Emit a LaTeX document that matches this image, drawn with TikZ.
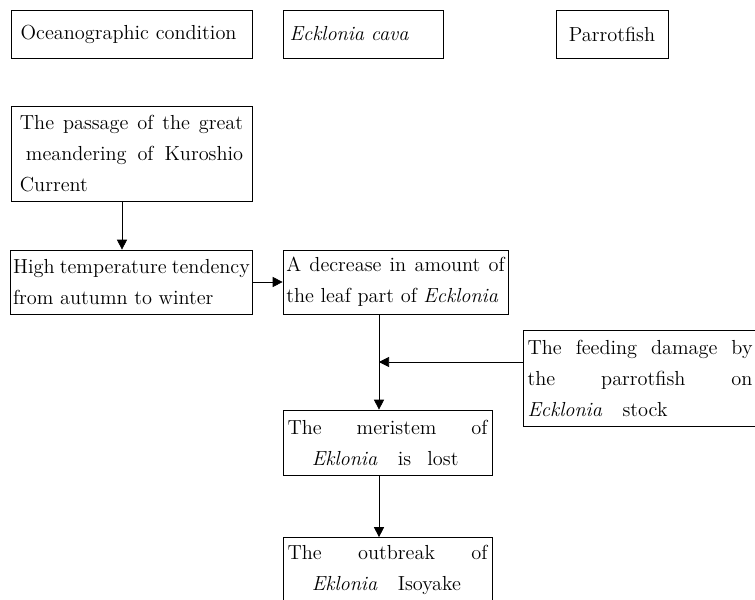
\documentclass[tikz,border=0pt]{standalone}
\usetikzlibrary{arrows.meta}

\begin{document}
\begin{tikzpicture}[x=0.6pt,y=-0.6pt,
    font=\fontsize{12.2}{18.6}\selectfont,
    >={Triangle[length=6pt,width=6pt]}]

      \useasboundingbox (0,0) rectangle (755,599);

      \begin{scope}[every node/.style={draw,rectangle,inner sep=1.5pt,align=justify}]
        \node[minimum width=144.6pt,minimum height=28.8pt,align=left,text width=133pt] (ocean) at (131.5,34) {Oceanographic condition};
        \node[minimum width=96pt,minimum height=28.8pt,align=left,text width=88pt] (cava) at (363,34) {\itshape Ecklonia cava};
        \node[minimum width=67.2pt,minimum height=28.8pt,align=center] (parrot) at (612,34) {Parrotfish};

        \node[minimum width=144.6pt,minimum height=57pt,text width=134pt] (passage) at (131.5,153.5)
          {The passage of the great\linebreak \hspace*{0.3em}meandering of Kuroshio\linebreak Current};
        \node[minimum width=144.6pt,minimum height=38.4pt,text width=142pt] (high) at (131.5,282)
          {High temperature tendency\linebreak from autumn to winter};
        \node[minimum width=135pt,minimum height=38.4pt,text width=131pt] (decrease) at (395.5,282)
          {A decrease in amount of\linebreak the leaf part of \textit{Ecklonia}};
        \node[minimum width=140.4pt,minimum height=57.6pt,text width=135pt] (feeding) at (640,378)
          {The feeding damage by\linebreak the parrotfish on\linebreak \textit{Ecklonia}\quad stock};
        \node[minimum width=125.4pt,minimum height=39pt,text width=120pt] (meristem) at (387.5,442.5)
          {The meristem of\linebreak \hspace*{1.2em}\textit{Eklonia}\quad is\hspace{0.8em}lost};
        \node[minimum width=125.4pt,minimum height=39pt,text width=120pt] (outbreak) at (387.5,570)
          {The outbreak of\linebreak \hspace*{1.2em}\textit{Eklonia}\quad Isoyake};
      \end{scope}

      \coordinate (a) at (122,0);
      \coordinate (b) at (379,0);
      \coordinate (join) at (379,362);

      \begin{scope}[every edge/.style={draw,->}]
        \path (passage.south -| a)  edge (high.north -| a);
        \path (high)                edge (decrease);
        \path (decrease.south -| b) edge (meristem.north -| b);
        \path (feeding.west |- join) edge (join);
        \path (meristem.south -| b) edge (outbreak.north -| b);
      \end{scope}

    \end{tikzpicture}
\end{document}
